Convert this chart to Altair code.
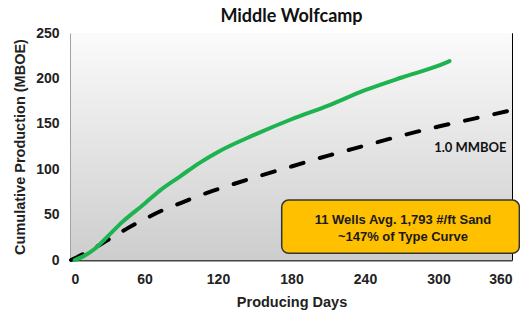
import altair as alt
import pandas as pd

# Actual well data (green)
actual_days = [3, 10, 20, 30, 42, 60, 73, 90, 105, 120, 150, 180, 210, 240, 270, 300, 309]
actual_vals = [0, 4, 13, 26, 42, 62, 77, 93, 107, 119, 138, 155, 170, 187, 201, 214, 219]

# Type curve (dashed)
type_days = [0, 15, 30, 45, 60, 75, 90, 105, 120, 150, 180, 210, 240, 270, 300, 330, 360]
type_vals = [0, 10, 22, 34, 45, 55, 63, 71, 78, 91, 103, 115, 126, 137, 147, 156, 165]

x_ticks = [0, 60, 120, 180, 240, 300, 360]
y_ticks = [0, 50, 100, 150, 200, 250]

box_lines = ["11 Wells Avg. 1,793 #/ft Sand", "~147% of Type Curve"]

W, H = 441, 227
FONT = "Liberation Sans"


def xs():
    return alt.Scale(domain=[0, 360], nice=False, zero=False)


def ys():
    return alt.Scale(domain=[0, 250], nice=False, zero=False)


actual = pd.DataFrame({"day": actual_days, "val": actual_vals})
typec = pd.DataFrame({"day": type_days, "val": type_vals})

bg = alt.Chart(pd.DataFrame({"a": [0]})).mark_rect(
    fill={"gradient": "linear", "x1": 0, "y1": 0, "x2": 0, "y2": 1,
          "stops": [{"offset": 0, "color": "#fbfbfb"}, {"offset": 1, "color": "#cdcdcd"}]}
).encode(x=alt.value(0), x2=alt.value(W), y=alt.value(0), y2=alt.value(H))

base_x = alt.X("day:Q", scale=xs(),
               axis=alt.Axis(values=x_ticks, title="Producing Days", ticks=False, grid=False,
                             labelPadding=12, titlePadding=9))
base_y = alt.Y("val:Q", scale=ys(),
               axis=alt.Axis(values=y_ticks, title="Cumulative Production (MBOE)", ticks=False,
                             grid=False, labelPadding=12, titlePadding=8))

type_line = alt.Chart(typec).mark_line(
    color="black", strokeWidth=4, strokeDash=[13, 17], strokeCap="round", interpolate="monotone"
).encode(x=base_x, y=base_y)

act_line = alt.Chart(actual).mark_line(
    color="#1db34f", strokeWidth=4, strokeCap="round", interpolate="monotone"
).encode(x=alt.X("day:Q", scale=xs()), y=alt.Y("val:Q", scale=ys()))

lbl = alt.Chart(pd.DataFrame({"day": [326], "val": [123], "t": ["1.0 MMBOE"]})).mark_text(
    font="Lato", fontWeight="bold", fontSize=13, color="#111", baseline="middle"
).encode(x=alt.X("day:Q", scale=xs()), y=alt.Y("val:Q", scale=ys()), text="t:N")

box = alt.Chart(pd.DataFrame({"day": [172], "day2": [366], "val": [66], "val2": [7.4]})).mark_rect(
    fill="#FFC000", stroke="#333333", strokeWidth=1.5, cornerRadius=7
).encode(x=alt.X("day:Q", scale=xs()), x2="day2:Q", y=alt.Y("val:Q", scale=ys()), y2="val2:Q")

box_txt = alt.Chart(pd.DataFrame({"day": [271], "val": [44], "t": [box_lines[0]]}).pipe(
    lambda d: pd.concat([d, pd.DataFrame({"day": [271], "val": [25.7], "t": [box_lines[1]]})]))
).mark_text(
    font=FONT, fontWeight="bold", fontSize=13, color="#1a1a1a", baseline="middle"
).encode(x=alt.X("day:Q", scale=xs()), y=alt.Y("val:Q", scale=ys()), text="t:N")

chart = alt.layer(bg, type_line, act_line, lbl, box, box_txt).properties(
    width=W, height=H,
    title=alt.TitleParams("Middle Wolfcamp", font="Lato", fontSize=18, fontWeight="bold",
                          color="#111", anchor="middle", offset=0),
    padding={"left": 63, "top": 25, "right": 8, "bottom": 50},
    autosize="none",
).configure_view(stroke="black", strokeWidth=1).configure_axis(
    domainColor="#444", domainWidth=2, labelFont=FONT, labelFontSize=14, labelFontWeight="bold",
    labelColor="#222", titleFont=FONT, titleFontSize=14.5, titleFontWeight="bold", titleColor="#222"
)

chart.save("out.html", embed_options={"renderer": "svg", "actions": False})
